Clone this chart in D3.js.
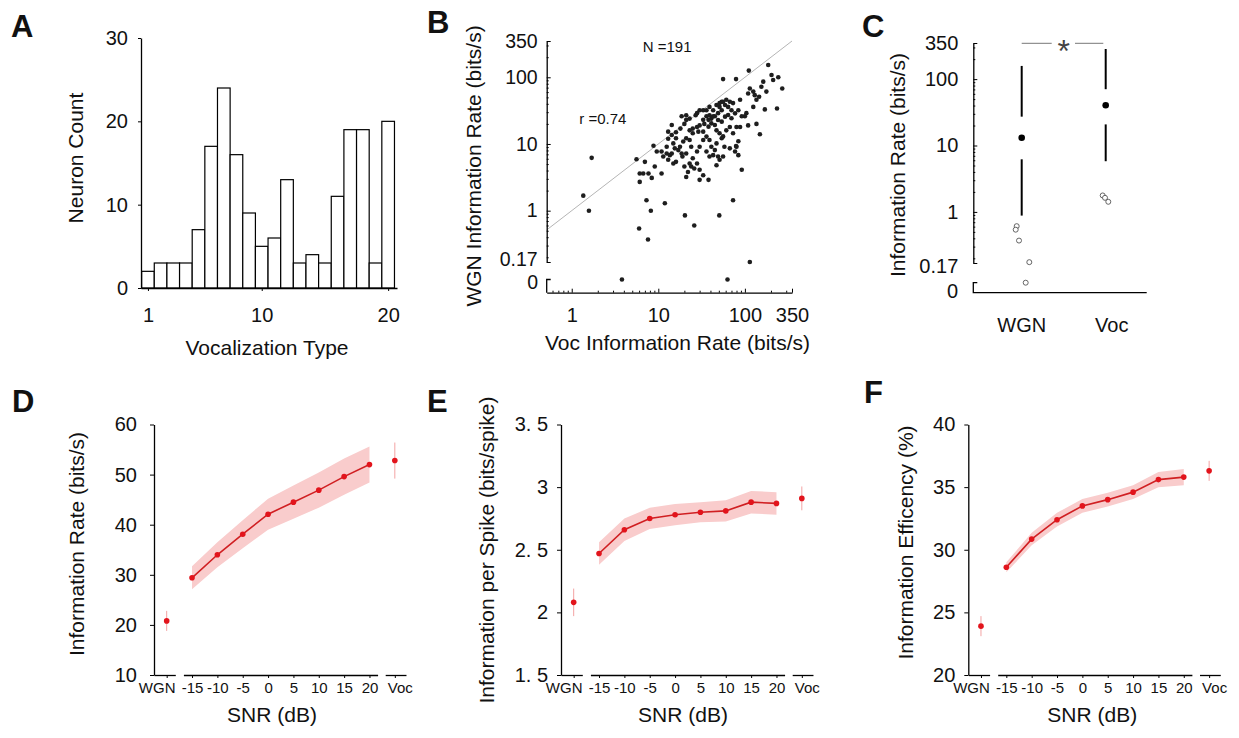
<!DOCTYPE html>
<html>
<head>
<meta charset="utf-8">
<script src="https://cdn.jsdelivr.net/npm/d3@7"></script>
<style>
body { margin: 0; background: #fff; }
svg { font-family: "Liberation Sans", Arial, sans-serif; }
</style>
</head>
<body>
<svg id="fig" width="1239" height="738"></svg>
<script>
// ---- A: histogram of best vocalization type ----
var vocTypes = d3.range(1, 21);
var neuronCounts = [2, 3, 3, 3, 7, 17, 24, 16, 9, 5, 6, 13, 3, 4, 3, 11, 19, 19, 3, 20];
var histYTicks = [0, 10, 20, 30];
var histXTicks = [1, 10, 20];

// ---- B: WGN vs Voc information rate per neuron ----
var vocRate = [1.36, 1.58, 1.70, 3.8, 63, 114, 6.0, 7.6, 7.3, 8.2, 11.9, 20.3, 26, 50.6, 73,
  56, 79, 111, 186, 203, 243, 163, 155, 270, 235, 146, 125, 109, 114, 170, 136, 149, 109, 88, 73,
  61, 54, 51, 43, 39, 36, 33, 28, 23, 21, 20, 18, 16, 14.3, 13, 14.9, 12.5, 10.9, 9.6, 8.8,
  9.1, 7.0, 6.1, 6.7, 7.7, 8.4, 6.1, 5.6, 10.9, 12.5, 13.6, 14.9, 16, 19, 21, 22, 21, 24, 26, 28,
  30, 30, 33, 38, 43, 47, 49, 51, 56, 58, 67, 77, 80, 92, 84, 45, 39, 36, 33, 30, 28, 24, 23, 21,
  19.4, 17.8, 17, 15.5, 14.3, 11.4, 25, 29, 33, 38, 41, 45, 49, 54, 59, 64, 70, 77, 84, 70, 64,
  59, 54, 49, 45, 41, 38, 34, 30, 28, 25, 23, 33, 36, 43, 47, 51, 56, 61, 67, 73, 80, 88, 100,
  104, 92, 125, 136, 130, 177, 212, 84, 79, 47, 54, 41, 36, 39, 25, 23, 20, 18.6, 13, 16, 13,
  14.3, 18.6, 21, 27, 30, 39, 47, 51, 56, 67];
var wgnRate = [1.68, 1.0, 6.2, 0, 0, 0.17, 0.54, 0.37, 1.43, 1.0, 1.29, 0.85, 0.6, 0.85, 1.43,
  94, 94, 126, 153, 108, 100, 86, 72, 68, 34, 51, 61, 57, 68, 33, 20, 14, 19, 46, 41,
  46, 43, 36, 32, 27, 26, 32, 29, 24, 23, 20, 17, 15, 13.6, 12, 10.2, 9.1, 7.7, 7.7, 9.4,
  4.6, 5.4, 3.6, 3.6, 3.6, 3.1, 2.7, 5.9, 3.6, 7.2, 6.8, 5.1, 5.4, 6.5, 7.2, 3.8, 3.2, 4.6, 4.3, 5.1,
  4.1, 2.9, 3.4, 2.9, 6.8, 4.8, 6.5, 5.8, 6.5, 9.1, 8.6, 7.7, 9.1, 4.1, 6.8, 8.1, 11.5, 12.9, 11.5, 9.1, 7.7, 9.1, 11.5, 12.2,
  10.9, 9.1, 8.1, 8.6, 7.2, 6.5, 14.5, 15.3, 15.3, 18.2, 20.4, 19.3, 22.9, 21.6, 25.7, 27.2, 24.3, 28.8, 32, 32, 36,
  38.5, 32, 29, 26, 24, 23, 20, 19, 18, 17, 16, 23, 32, 26, 16, 14.5, 13, 16, 18, 14.5, 18, 18, 26,
  29, 26, 36, 46, 54, 61, 91, 11, 9.3, 10.2, 12.2, 9.1, 7.7, 6.5, 6.1, 5.1, 4.6, 7.2, 5.8, 12.2, 15.3,
  19.3, 26, 27, 27, 32, 36, 38.5, 41, 43, 43];
var rateTicks = [0.17, 1, 10, 100, 350];
var rateTicksX = [1, 10, 100, 350];
var minorRate = [0.2, 0.3, 0.4, 0.5, 0.6, 0.7, 0.8, 0.9, 2, 3, 4, 5, 6, 7, 8, 9,
  20, 30, 40, 50, 60, 70, 80, 90, 200, 300];

// ---- C: population summary ----
var groups = ["WGN", "Voc"];
var groupMedian = [13.1, 40.4];
var groupQ1 = [6.2, 20.8];
var groupQ3 = [27.2, 70.5];
var groupLow = [0.88, 5.8];
var groupHigh = [158, 284];
var outlierGroup = ["WGN", "WGN", "WGN", "WGN", "WGN", "Voc", "Voc", "Voc"];
var outlierRate = [0.61, 0.54, 0.37, 0.175, 0, 1.77, 1.63, 1.42];
var outlierJitter = [-5, -6, -2.7, 7.6, 4, -3, -0.7, 2.6];

// ---- D/E/F: SNR series ----
var snrLevels = [-15, -10, -5, 0, 5, 10, 15, 20];
var rateMean = [29.4, 34.0, 38.1, 42.1, 44.5, 46.9, 49.6, 52.0];
var rateSem = [2.3, 2.5, 2.8, 3.1, 3.3, 3.5, 3.6, 3.6];
var rateWgn = [20.8, 2.0], rateVoc = [52.8, 3.6];
var spikeMean = [2.47, 2.66, 2.75, 2.78, 2.80, 2.81, 2.88, 2.87];
var spikeSem = [0.09, 0.09, 0.085, 0.085, 0.08, 0.085, 0.09, 0.09];
var spikeWgn = [2.08, 0.11], spikeVoc = [2.91, 0.095];
var effMean = [28.6, 30.85, 32.4, 33.5, 34.0, 34.6, 35.6, 35.8];
var effSem = [0.4, 0.5, 0.55, 0.55, 0.55, 0.55, 0.6, 0.65];
var effWgn = [23.9, 0.8], effVoc = [36.3, 0.8];

var svg = d3.select("#fig");
var dotRed = "#e2141c", lineRed = "#d01f22", bandRed = "#f9cccc", errRed = "#f3a3a3";

function styleAxis(g, fs) {
  g.attr("font-family", null).attr("font-size", fs);
  g.selectAll(".domain").attr("stroke", "#000").attr("stroke-width", 1.3);
  g.selectAll(".tick line").attr("stroke", "#000").attr("stroke-width", 1);
  g.selectAll(".tick text").attr("fill", "#111");
  return g;
}
function letter(t, x, y) {
  svg.append("text").attr("x", x).attr("y", y).attr("font-size", 31).attr("font-weight", "bold")
    .attr("fill", "#111").text(t);
}
function title(t, x, y, fs, rot) {
  var el = svg.append("text").attr("text-anchor", "middle").attr("font-size", fs).attr("fill", "#111").text(t);
  if (rot) el.attr("transform", "translate(" + x + "," + y + ") rotate(-90)");
  else el.attr("x", x).attr("y", y);
  return el;
}

// ================= A =================
var xA = d3.scaleLinear().domain([0.45, 20.7]).range([141, 397]);
var yA = d3.scaleLinear().domain([0, 30]).range([288, 38]);
svg.append("g").selectAll("rect").data(neuronCounts).join("rect")
  .attr("x", function(d, i) { return xA(vocTypes[i] - 0.5); })
  .attr("width", xA(1.5) - xA(0.5))
  .attr("y", function(d) { return yA(d); })
  .attr("height", function(d) { return yA(0) - yA(d); })
  .attr("fill", "#fff").attr("stroke", "#000").attr("stroke-width", 1.2);
styleAxis(svg.append("g").attr("transform", "translate(141,0)")
  .call(d3.axisLeft(yA).tickValues(histYTicks).tickSize(3).tickPadding(10).tickSizeOuter(0)), 20);
styleAxis(svg.append("g").attr("transform", "translate(0,288)")
  .call(d3.axisBottom(xA).tickValues(histXTicks).tickSize(3).tickPadding(17).tickSizeOuter(0)), 20);
title("Neuron Count", 83, 158, 21, true);
title("Vocalization Type", 267, 355, 21);
letter("A", 11, 37);

// ================= B =================
var xB = d3.scaleLog().domain([0.514, 350]).range([546.7, 792]);
var yB = d3.scaleLog().domain([0.17, 350]).range([262, 41]);
var zeroB = 279.5, baseB = 292.7;
svg.append("line").attr("x1", xB(0.514)).attr("y1", yB(0.514)).attr("x2", xB(350)).attr("y2", yB(350))
  .attr("stroke", "#b5b5b5").attr("stroke-width", 1);
svg.append("g").selectAll("circle").data(vocRate).join("circle")
  .attr("cx", function(d) { return xB(d); })
  .attr("cy", function(d, i) { return wgnRate[i] === 0 ? zeroB : yB(wgnRate[i]); })
  .attr("r", 2.3).attr("fill", "#1e1e1e");
var yAxB = styleAxis(svg.append("g").attr("transform", "translate(546.7,0)")
  .call(d3.axisLeft(yB).tickValues(rateTicks).tickFormat(d3.format("")).tickSize(-4).tickPadding(9).tickSizeOuter(0)), 19.5);
yAxB.selectAll(".tick text").filter(function(d) { return d === 0.17; }).attr("dy", "0.2em");
styleAxis(svg.append("g").attr("transform", "translate(546.7,0)")
  .call(d3.axisLeft(yB).tickValues(minorRate).tickFormat("").tickSize(-2).tickSizeOuter(0)), 20)
  .select(".domain").remove();
styleAxis(svg.append("g").attr("transform", "translate(0," + baseB + ")")
  .call(d3.axisBottom(xB).tickValues(rateTicksX).tickFormat(d3.format("")).tickSize(-4).tickPadding(15).tickSizeOuter(0)), 20);
styleAxis(svg.append("g").attr("transform", "translate(0," + baseB + ")")
  .call(d3.axisBottom(xB).tickValues(minorRate.filter(function(d) { return d > 0.514; })).tickFormat("").tickSize(-2).tickSizeOuter(0)), 20)
  .select(".domain").remove();
svg.append("path").attr("d", "M550.7," + zeroB + "H546.7V" + baseB).attr("fill", "none").attr("stroke", "#000").attr("stroke-width", 1.3);
svg.append("text").attr("x", 538).attr("y", zeroB + 3).attr("dy", "0.35em").attr("text-anchor", "end")
  .attr("font-size", 19.5).attr("fill", "#111").text("0");
svg.append("text").attr("x", 642.7).attr("y", 51.7).attr("font-size", 15).attr("fill", "#111").text("N =191");
svg.append("text").attr("x", 579.3).attr("y", 124).attr("font-size", 15).attr("fill", "#111").text("r =0.74");
title("WGN Information Rate (bits/s)", 481, 166, 21, true);
title("Voc Information Rate (bits/s)", 677.5, 350, 21);
letter("B", 427, 33);

// ================= C =================
var xC = d3.scalePoint().domain(groups).range([1021.7, 1105.7]);
var yC = d3.scaleLog().domain([0.17, 350]).range([263, 43]);
var zeroC = 282.7, baseC = 292.7;
var gC = svg.append("g");
groups.forEach(function(gname, i) {
  var cx = xC(gname);
  gC.append("line").attr("x1", cx).attr("x2", cx).attr("y1", yC(groupHigh[i])).attr("y2", yC(groupQ3[i]))
    .attr("stroke", "#000").attr("stroke-width", 2);
  gC.append("line").attr("x1", cx).attr("x2", cx).attr("y1", yC(groupQ1[i])).attr("y2", yC(groupLow[i]))
    .attr("stroke", "#000").attr("stroke-width", 2);
  gC.append("circle").attr("cx", cx).attr("cy", yC(groupMedian[i])).attr("r", 3.3).attr("fill", "#000");
});
gC.selectAll("circle.out").data(outlierRate).join("circle").attr("class", "out")
  .attr("cx", function(d, i) { return xC(outlierGroup[i]) + outlierJitter[i]; })
  .attr("cy", function(d) { return d === 0 ? zeroC : yC(d); })
  .attr("r", 2.5).attr("fill", "#fff").attr("stroke", "#555").attr("stroke-width", 0.9);
var yAxC = styleAxis(svg.append("g").attr("transform", "translate(973.3,0)")
  .call(d3.axisLeft(yC).tickValues(rateTicks).tickFormat(d3.format("")).tickSize(-4).tickPadding(15).tickSizeOuter(0)), 20);
yAxC.selectAll(".tick text").filter(function(d) { return d === 0.17; }).attr("dy", "0.45em");
styleAxis(svg.append("g").attr("transform", "translate(973.3,0)")
  .call(d3.axisLeft(yC).tickValues(minorRate).tickFormat("").tickSize(-2).tickSizeOuter(0)), 20)
  .select(".domain").remove();
svg.append("path").attr("d", "M977.3," + zeroC + "H973.3V" + baseC + "H1146.7").attr("fill", "none")
  .attr("stroke", "#000").attr("stroke-width", 1.3);
svg.append("text").attr("x", 958).attr("y", zeroC + 8).attr("dy", "0.35em").attr("text-anchor", "end")
  .attr("font-size", 20).attr("fill", "#111").text("0");
gC.selectAll("text.grp").data(groups).join("text").attr("class", "grp")
  .attr("x", function(d, i) { return xC(d) + i * 6; }).attr("y", 332)
  .attr("text-anchor", "middle").attr("font-size", 20).attr("fill", "#111").text(function(d) { return d; });
var sigY = 43.3;
svg.append("line").attr("x1", xC("WGN")).attr("x2", xC("WGN") + 30).attr("y1", sigY).attr("y2", sigY)
  .attr("stroke", "#777").attr("stroke-width", 1);
svg.append("line").attr("x1", xC("Voc") - 30.7).attr("x2", xC("Voc") - 2.4).attr("y1", sigY).attr("y2", sigY)
  .attr("stroke", "#777").attr("stroke-width", 1);
svg.append("text").attr("x", (xC("WGN") + xC("Voc")) / 2).attr("y", 62).attr("text-anchor", "middle")
  .attr("font-size", 32).attr("fill", "#444").text("*");
title("Information Rate (bits/s)", 905, 165, 21, true);
letter("C", 862, 37);

// ================= D / E / F =================
function snrPanel(o) {
  var x0 = o.x0;
  var x = d3.scaleLinear().domain([-22.5, 27.5]).range([x0, x0 + 253.5]);
  var y = d3.scaleLinear().domain(o.yDomain).range([675, 424.5]);
  var g = svg.append("g");
  var area = d3.area()
    .x(function(d, i) { return x(snrLevels[i]); })
    .y0(function(d, i) { return y(d - o.sem[i]); })
    .y1(function(d, i) { return y(d + o.sem[i]); });
  g.append("path").datum(o.mean).attr("d", area).attr("fill", bandRed);
  var line = d3.line().x(function(d, i) { return x(snrLevels[i]); }).y(function(d) { return y(d); });
  g.append("path").datum(o.mean).attr("d", line).attr("fill", "none").attr("stroke", lineRed).attr("stroke-width", 1.6);
  g.selectAll("circle.m").data(o.mean).join("circle").attr("class", "m")
    .attr("cx", function(d, i) { return x(snrLevels[i]); }).attr("cy", function(d) { return y(d); })
    .attr("r", 2.8).attr("fill", dotRed);
  var ends = [{ k: -20, v: o.wgn }, { k: 25, v: o.voc }];
  ends.forEach(function(e) {
    g.append("line").attr("x1", x(e.k)).attr("x2", x(e.k)).attr("y1", y(e.v[0] - e.v[1])).attr("y2", y(e.v[0] + e.v[1]))
      .attr("stroke", errRed).attr("stroke-width", 1);
    g.append("circle").attr("cx", x(e.k)).attr("cy", y(e.v[0])).attr("r", 2.8).attr("fill", dotRed);
  });
  styleAxis(g.append("g").attr("transform", "translate(" + x0 + ",0)")
    .call(d3.axisLeft(y).tickValues(o.yTicks).tickFormat(o.fmt).tickSize(4).tickPadding(o.pad).tickSizeOuter(0)), 20);
  var segs = [
    { d: [-22.5, -18.3], t: [-20] },
    { d: [-16.7, 21.6], t: snrLevels },
    { d: [23.1, 27.2], t: [25] }
  ];
  segs.forEach(function(s) {
    var xs = x.copy().domain(s.d).range(s.d.map(x));
    var ax = styleAxis(g.append("g").attr("transform", "translate(0,675)")
      .call(d3.axisBottom(xs).tickValues(s.t).tickSize(3).tickPadding(4).tickSizeOuter(0)
        .tickFormat(function(d) { return d === -20 ? "WGN" : d === 25 ? "Voc" : d; })), 15);
    // end labels sit a little off their ticks, as in the original
    ax.selectAll(".tick text").attr("dx", function(d) { return d === -20 ? -10 : d === 25 ? 5 : 0; });
  });
  title(o.label, o.labelX, o.labelY, 21, true);
  title("SNR (dB)", x0 + o.snrDx, 722, 21);
}

snrPanel({ x0: 154, yDomain: [10, 60], yTicks: [10, 20, 30, 40, 50, 60], fmt: d3.format(""), pad: 13,
  mean: rateMean, sem: rateSem, wgn: rateWgn, voc: rateVoc,
  label: "Information Rate (bits/s)", labelX: 84, labelY: 544, snrDx: 118 });
snrPanel({ x0: 561, yDomain: [1.5, 3.5], yTicks: [1.5, 2, 2.5, 3, 3.5],
  fmt: function(d) { return String(d).replace(".", ". "); }, pad: 9,
  mean: spikeMean, sem: spikeSem, wgn: spikeWgn, voc: spikeVoc,
  label: "Information per Spike (bits/spike)", labelX: 494, labelY: 550, snrDx: 122 });
snrPanel({ x0: 968.3, yDomain: [20, 40], yTicks: [20, 25, 30, 35, 40], fmt: d3.format(""), pad: 9,
  mean: effMean, sem: effSem, wgn: effWgn, voc: effVoc,
  label: "Information Efficency (%)", labelX: 913, labelY: 542.5, snrDx: 124 });
letter("D", 12, 412);
letter("E", 427, 412);
letter("F", 864, 403);
</script>
</body>
</html>
